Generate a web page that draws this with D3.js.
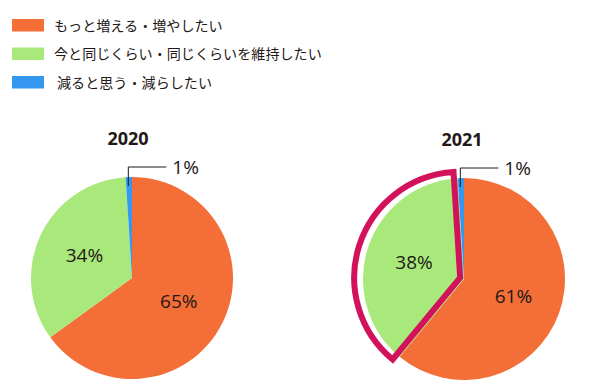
<!DOCTYPE html>
<html>
<head>
<meta charset="utf-8">
<script src="https://cdn.jsdelivr.net/npm/d3@7"></script>
<style>
  body { margin: 0; background: #fff; }
  text { fill: #231815; }
</style>
</head>
<body>
<svg id="chart" width="600" height="388"></svg>
<script>
const categories = ['もっと増える・増やしたい', '今と同じくらい・同じくらいを維持したい', '減ると思う・減らしたい'];
const colors = ['#f46f37', '#a9e97b', '#3497f0'];
const years = ['2020', '2021'];
const values2020 = [65, 34, 1];
const values2021 = [61, 38, 1];
const highlight = [null, 1]; // index of highlighted slice per year

const svg = d3.select('#chart');

// legend
const legend = svg.append('g').attr('transform', 'translate(12,19)');
categories.forEach((c, i) => {
  legend.append('rect')
    .attr('x', 0)
    .attr('y', i * 28.5)
    .attr('width', 32)
    .attr('height', 12.5)
    .attr('fill', colors[i]);
  legend.append('text')
    .attr('x', i === 2 ? 45 : 42)
    .attr('y', i * 28.5 + 11.5)
    .style('font-family', '"Noto Sans CJK JP", sans-serif')
    .style('font-size', '14.1px')
    .text(c);
});

const r = 101;
const centers = [[132, 278], [464, 279]];
const pie = d3.pie().sort(null).value(d => d);
const arc = d3.arc().innerRadius(0).outerRadius(r);

[values2020, values2021].forEach((vals, k) => {
  const [cx, cy] = centers[k];
  const g = svg.append('g').attr('transform', `translate(${cx},${cy})`);
  const arcs = pie(vals);

  g.selectAll('path.slice')
    .data(arcs)
    .join('path')
    .attr('class', 'slice')
    .attr('d', arc)
    .attr('fill', (d, i) => colors[i]);

  // highlight outline around one slice
  if (highlight[k] !== null) {
    const a = arcs[highlight[k]];
    const mid = (a.startAngle + a.endAngle) / 2;
    const shift = 4;
    g.append('path')
      .attr('transform', `translate(${Math.sin(mid) * shift},${-Math.cos(mid) * shift})`)
      .attr('d', d3.arc().innerRadius(0).outerRadius(r + 5)(a))
      .attr('fill', 'none')
      .attr('stroke', '#d2135c')
      .attr('stroke-width', 6)
      .attr('stroke-linejoin', 'miter');
  }

  // big labels
  g.selectAll('text.pct')
    .data(arcs.filter(d => d.data >= 5))
    .join('text')
    .attr('class', 'pct')
    .attr('transform', d => {
      const [x, y] = d3.arc().innerRadius(0).outerRadius(r * 1.04).centroid(d);
      return `translate(${x},${y})`;
    })
    .attr('text-anchor', 'middle')
    .attr('dy', '0.35em')
    .style('font-family', '"Open Sans", sans-serif')
    .style('font-size', '19px')
    .text(d => d.data + '%');

  // small slice with leader line
  const small = arcs.find(d => d.data < 5);
  const lx = Math.sin((small.startAngle + small.endAngle) / 2) * r - 0.5;
  g.append('polyline')
    .attr('points', `${lx},${-r + 9} ${lx},${-r - 10} ${lx + 38},${-r - 10}`)
    .attr('fill', 'none')
    .attr('stroke', '#231815')
    .attr('stroke-width', 1);
  g.append('text')
    .attr('x', lx + 44)
    .attr('y', -r - 3)
    .style('font-family', '"Open Sans", sans-serif')
    .style('font-size', '19px')
    .text(small.data + '%');

  // title
  g.append('text')
    .attr('x', -4 + k * 2)
    .attr('y', -r - 32)
    .attr('text-anchor', 'middle')
    .style('font-family', '"Open Sans", sans-serif')
    .style('font-weight', 'bold')
    .style('font-size', '18px')
    .text(years[k]);
});
</script>
</body>
</html>
